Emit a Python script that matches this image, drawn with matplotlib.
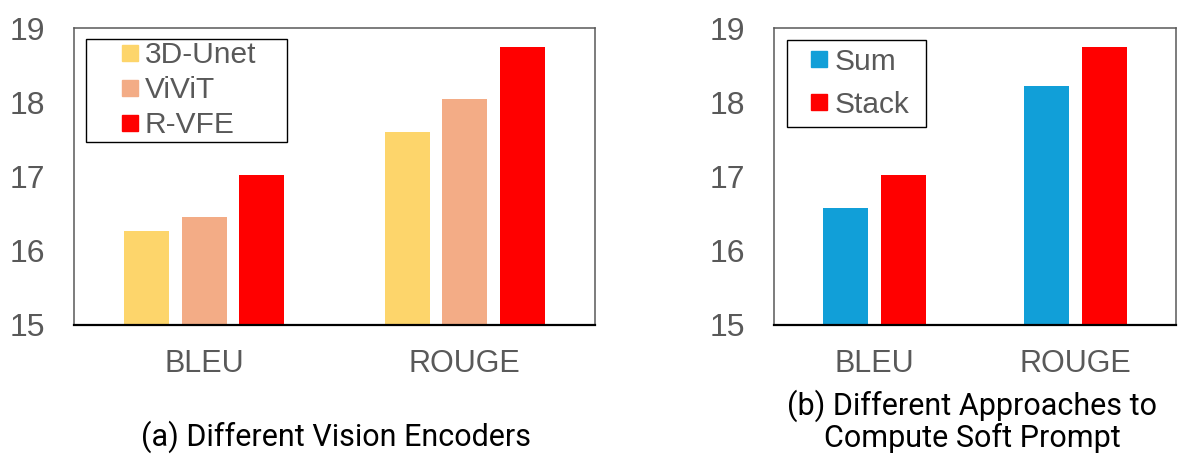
import matplotlib
matplotlib.use("Agg")
import matplotlib.pyplot as plt
from matplotlib.lines import Line2D
import numpy as np

# data
metrics = ["BLEU", "ROUGE"]
enc_names = ["3D-Unet", "ViViT", "R-VFE"]
unet = [16.27, 17.60]
vivit = [16.45, 18.05]
rvfe = [17.02, 18.74]
prompt_names = ["Sum", "Stack"]
sum_vals = [16.58, 18.22]
stack_vals = [17.02, 18.74]
yticks = [15, 16, 17, 18, 19]

enc_colors = ["#FDD56B", "#F3AC86", "#FF0000"]
prompt_colors = ["#119FD8", "#FF0000"]
grey = "#595959"

plt.rcParams["font.family"] = ["Liberation Sans", "DejaVu Sans"]

fig = plt.figure(figsize=(11.96, 4.66), dpi=100)
ax1 = fig.add_axes([74/1196, 1-325/466, 521/1196, 297/466])
ax2 = fig.add_axes([774/1196, 1-325/466, 402/1196, 297/466])

x = np.arange(len(metrics))

# (a) vision encoders
pitch = 0.22
for i, (vals, c) in enumerate(zip([unet, vivit, rvfe], enc_colors)):
    ax1.bar(x + (i-1)*pitch, np.array(vals)-15, bottom=15, width=0.173, color=c)

# (b) soft prompt
pitch2 = 0.284
for i, (vals, c) in enumerate(zip([sum_vals, stack_vals], prompt_colors)):
    ax2.bar(x + (i-0.5)*pitch2, np.array(vals)-15, bottom=15, width=0.224, color=c)

for ax in (ax1, ax2):
    ax.set_xlim(-0.5, 1.5)
    ax.set_ylim(15, 19)
    ax.set_yticks(yticks)
    ax.set_xticks(x)
    ax.set_xticklabels(metrics)
    ax.tick_params(axis="y", length=0, pad=21, labelsize=23, labelcolor=grey)
    ax.tick_params(axis="x", length=0, pad=17, labelsize=22, labelcolor=grey)
    for s in ["left", "right", "top"]:
        ax.spines[s].set_color(grey)
        ax.spines[s].set_linewidth(1.1)
    ax.spines["bottom"].set_color("black")
    ax.spines["bottom"].set_linewidth(1.6)

def handles(names, colors):
    return [Line2D([], [], ls="none", marker="s", markersize=11, color=c, label=n)
            for n, c in zip(names, colors)]

fs = 21.5
leg1 = ax1.legend(handles=handles(enc_names, enc_colors), loc="upper left",
                  bbox_to_anchor=(0.023, 0, 0.386, 0.963), mode="expand",
                  borderaxespad=0, borderpad=0.07, fontsize=fs, labelspacing=0.24,
                  handlelength=2.8, handletextpad=-0.9, labelcolor=grey,
                  fancybox=False, edgecolor="black", framealpha=1)
leg1.get_frame().set_linewidth(1.0)

leg2 = ax2.legend(handles=handles(prompt_names, prompt_colors), loc="upper left",
                  bbox_to_anchor=(0.032, 0, 0.346, 0.96), mode="expand",
                  borderaxespad=0, borderpad=0.26, fontsize=fs, labelspacing=0.51,
                  handlelength=1.65, handletextpad=-0.30, labelcolor=grey,
                  fancybox=False, edgecolor="black", framealpha=1)
leg2.get_frame().set_linewidth(1.0)

cap = dict(family=["Roboto", "DejaVu Sans"], fontsize=22, color="black", ha="center", va="baseline")
fig.text(336/1196, 1-446/466, "(a) Different Vision Encoders", **cap)
fig.text(972/1196, 1-415/466, "(b) Different Approaches to", **cap)
fig.text(972/1196, 1-447/466, "Compute Soft Prompt", **cap)

fig.savefig("out.png", dpi=100)
